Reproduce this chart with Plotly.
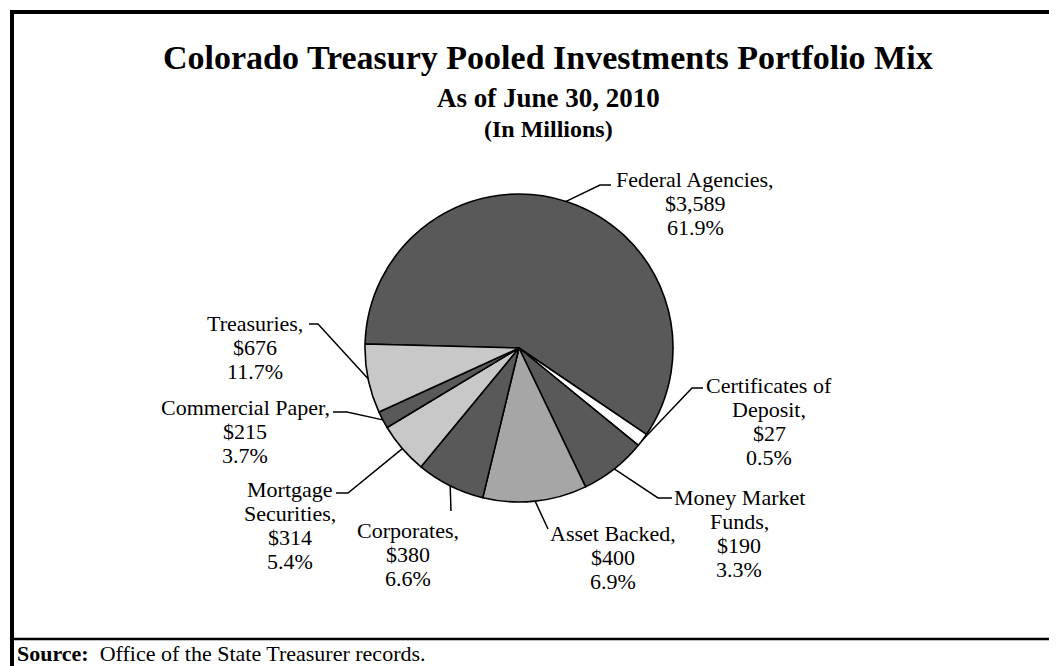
import math
import plotly.graph_objects as go

# ---------------- data ----------------
categories = ["Federal Agencies", "Certificates of Deposit", "Money Market Funds",
              "Asset Backed", "Corporates", "Mortgage Securities",
              "Commercial Paper", "Treasuries"]
# label texts as printed on the chart
label_lines = [
    ["Federal Agencies,"],
    ["Certificates of", "Deposit,"],
    ["Money Market", "Funds,"],
    ["Asset Backed,"],
    ["Corporates,"],
    ["Mortgage", "Securities,"],
    ["Commercial Paper,"],
    ["Treasuries,"],
]
amounts_millions = ["$3,589", "$27", "$190", "$400", "$380", "$314", "$215", "$676"]
percent_labels = ["61.9%", "0.5%", "3.3%", "6.9%", "6.6%", "5.4%", "3.7%", "11.7%"]
# slice sizes as drawn in the picture (% of the circle)
slice_share = [59.1, 1.4, 7.0, 10.9, 7.2, 5.4, 1.8, 7.25]

# ---------------- styling / layout ----------------
PAGE_W, PAGE_H = 1057, 666
OFF = 8                                   # browser body margin
W, H = PAGE_W - OFF, PAGE_H - OFF          # figure size
DARK, LIGHT, MID, WHITE = "#595959", "#c8c8c8", "#a6a6a6", "#ffffff"
slice_colors = [DARK, WHITE, DARK, MID, DARK, LIGHT, DARK, LIGHT]
CX, CY, R = 519, 348, 154          # pie centre / radius in page pixels
ROTATION = 271.5                   # first slice start (clockwise from 12 o'clock)
FONT = "Liberation Serif, Times New Roman, serif"
LABEL_SIZE = 22
LINE_STEP = 24.3

# label placement: (elbow points, text centre x, first line centre y) in page px
label_layout = [
    ([(600, 185), (611, 185)], 695, 179),
    ([(692, 388), (703, 388)], 769, 385),
    ([(658, 498), (672, 498)], 739, 497),
    ([(548, 529)], 613, 533),
    ([(451, 511)], 408, 530),
    ([(348, 493), (336, 493)], 290, 489),
    ([(347, 412), (333, 412)], 245, 407),
    ([(318, 324), (309, 324)], 255, 323),
]


def px(x):
    return (x - OFF) / W


def py(y):
    return 1 - (y - OFF) / H


fig = go.Figure()
fig.add_trace(go.Pie(
    labels=categories,
    values=slice_share,
    sort=False,
    direction="clockwise",
    rotation=ROTATION,
    marker=dict(colors=slice_colors, line=dict(color="black", width=1.6)),
    textinfo="none",
    hoverinfo="label",
    showlegend=False,
    domain=dict(x=[px(CX - R), px(CX + R)], y=[py(CY + R), py(CY - R)]),
))

shapes = []
annotations = []

# leader lines start at each slice's mid-angle on the rim (computed from the data)
total = sum(slice_share)
cum = 0.0
for i, share in enumerate(slice_share):
    mid = ROTATION + 360 * (cum + share / 2) / total   # clockwise from 12 o'clock
    cum += share
    a = math.radians(mid)
    ex, ey = CX + R * math.sin(a), CY - R * math.cos(a)
    elbows, tx, ty0 = label_layout[i]
    pts = [(ex, ey)] + elbows
    path = "M " + " L ".join(f"{px(x):.5f},{py(y):.5f}" for x, y in pts)
    shapes.append(dict(type="path", xref="paper", yref="paper", path=path,
                       line=dict(color="black", width=1.5)))
    lines = label_lines[i] + [amounts_millions[i], percent_labels[i]]
    for k, line in enumerate(lines):
        annotations.append(dict(x=px(tx), y=py(ty0 + k * LINE_STEP), xref="paper", yref="paper",
                                text=line, showarrow=False, xanchor="center",
                                yanchor="middle", align="center",
                                font=dict(family=FONT, size=LABEL_SIZE, color="black")))

# titles
for txt, y, size in [("<b>Colorado Treasury Pooled Investments Portfolio Mix</b>", 57, 34),
                     ("<b>As of June 30, 2010</b>", 98, 27),
                     ("<b>(In Millions)</b>", 129, 24)]:
    annotations.append(dict(x=px(548), y=py(y), xref="paper", yref="paper", text=txt,
                            showarrow=False, xanchor="center", yanchor="middle",
                            font=dict(family=FONT, size=size, color="black")))

# source note
annotations.append(dict(x=px(15), y=py(653), xref="paper", yref="paper",
                        text="<b>Source:</b>\u00a0\u00a0Office of the State Treasurer records.",
                        showarrow=False, xanchor="left", yanchor="middle",
                        font=dict(family=FONT, size=22, color="black")))

# frame
shapes += [
    dict(type="line", xref="paper", yref="paper", x0=px(12), x1=px(12), y0=py(10), y1=py(PAGE_H + 2),
         line=dict(color="black", width=4)),
    dict(type="line", xref="paper", yref="paper", x0=px(10), x1=px(PAGE_W + 2), y0=py(12), y1=py(12),
         line=dict(color="black", width=4)),
    dict(type="line", xref="paper", yref="paper", x0=px(12), x1=px(PAGE_W + 2), y0=py(639), y1=py(639),
         line=dict(color="black", width=2.5)),
]

fig.update_layout(
    width=W, height=H,
    margin=dict(l=0, r=0, t=0, b=0),
    paper_bgcolor="white", plot_bgcolor="white",
    shapes=shapes, annotations=annotations,
)

fig.write_html("out.html")
